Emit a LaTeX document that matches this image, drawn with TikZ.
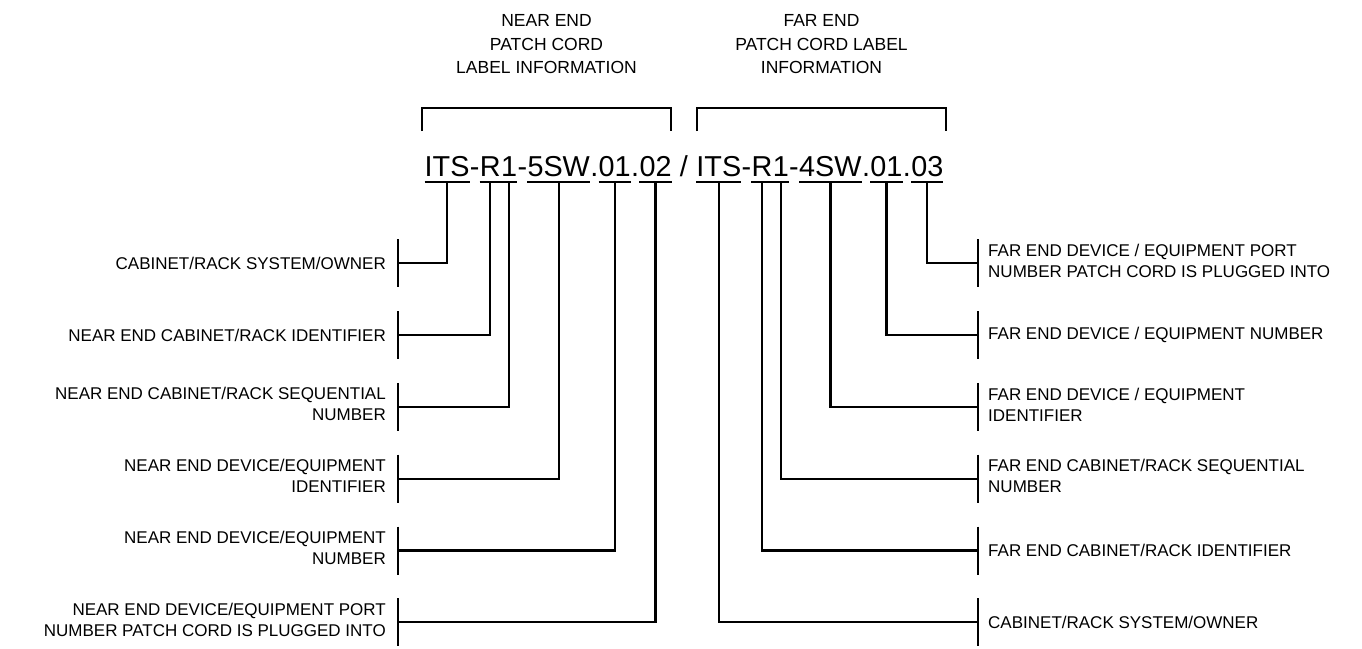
\documentclass[tikz,border=0pt]{standalone}
\usepackage{fontspec}
\setmainfont{Liberation Sans}
\begin{document}
\begin{tikzpicture}[x=1pt,y=-1pt,
  ln/.style={line width=2.2pt},
  ul/.style={line width=2pt},
  seg/.style={inner sep=0pt, anchor=base west, text height=21pt, text depth=6pt, font=\fontsize{28.8}{32}\selectfont},
  lbl/.style={inner sep=0pt, font=\fontsize{17}{21}\selectfont},
  lblL/.style={lbl, anchor=east, align=right},
  lblR/.style={lbl, anchor=west, align=left},
  hdr/.style={inner sep=0pt, anchor=north, align=center, font=\fontsize{17.5}{23.5}\selectfont}]
\path[use as bounding box] (0,0) rectangle (1362,648);

% headers
\node[hdr] (hn) at (546.5,14.5) {NEAR END\\PATCH CORD\\LABEL INFORMATION};
\node[hdr] (hf) at (821.5,14.5) {FAR END\\PATCH CORD LABEL\\INFORMATION};

% brackets
\coordinate (bkn1) at (422,131); \coordinate (bkn2) at (671,131);
\coordinate (bkf1) at (697,131); \coordinate (bkf2) at (946,131);
\draw[ln] (bkn1) -- ++(0,-23) -| (bkn2);
\draw[ln] (bkf1) -- ++(0,-23) -| (bkf2);

% main label text
\node[seg] (n1) at (424.5,176) {ITS};
\node[seg] (h1) at (n1.base east) {-};
\node[seg] (n2) at (h1.base east) {R};
\node[seg] (n3) at (n2.base east) {1};
\node[seg] (h2) at (n3.base east) {-};
\node[seg] (n4) at (h2.base east) {5SW};
\node[seg] (d1) at (n4.base east) {.};
\node[seg] (n5) at (d1.base east) {01};
\node[seg] (d2) at (n5.base east) {.};
\node[seg] (n6) at (d2.base east) {02};
\node[seg] (sl) at (n6.base east) {\kern0.278em/\kern0.278em};
\node[seg] (m1) at (sl.base east) {ITS};
\node[seg] (h3) at (m1.base east) {-};
\node[seg] (m2) at (h3.base east) {R};
\node[seg] (m3) at (m2.base east) {1};
\node[seg] (h4) at (m3.base east) {-};
\node[seg] (m4) at (h4.base east) {4SW};
\node[seg] (d3) at (m4.base east) {.};
\node[seg] (m5) at (d3.base east) {01};
\node[seg] (d4) at (m5.base east) {.};
\node[seg] (m6) at (d4.base east) {03};

\foreach \s in {n1,n2,n3,n4,n5,n6,m1,m2,m3,m4,m5,m6}
  \draw[ul] (\s.south west) -- (\s.south east);

% bar coordinates
\coordinate (bl1) at (398,263.3);
\coordinate (bl2) at (398,335.1);
\coordinate (bl3) at (398,406.9);
\coordinate (bl4) at (398,478.7);
\coordinate (bl5) at (398,550.5);
\coordinate (bl6) at (398,622.3);
\coordinate (br1) at (978,263.3);
\coordinate (br2) at (978,335.1);
\coordinate (br3) at (978,406.9);
\coordinate (br4) at (978,478.7);
\coordinate (br5) at (978,550.5);
\coordinate (br6) at (978,622.3);

\foreach \c in {bl1,bl2,bl3,bl4,bl5,bl6,br1,br2,br3,br4,br5,br6}
  \draw[ln] ([yshift=24pt]\c) -- ([yshift=-24pt]\c);

% connectors
\draw[ln] (n1.south) |- (bl1);
\draw[ln] (n2.south) |- (bl2);
\draw[ln] (n3.south) |- (bl3);
\draw[ln] (n4.south) |- (bl4);
\draw[ln] (n5.south) |- (bl5);
\draw[ln] (n6.south) |- (bl6);
\draw[ln] (m6.south) |- (br1);
\draw[ln] (m5.south) |- (br2);
\draw[ln] (m4.south) |- (br3);
\draw[ln] (m3.south) |- (br4);
\draw[ln] (m2.south) |- (br5);
\draw[ln] (m1.south) |- (br6);

% left labels
\node[lblL] (tl1) at ([xshift=-12pt]bl1) {CABINET/RACK SYSTEM/OWNER};
\node[lblL] (tl2) at ([xshift=-12pt]bl2) {NEAR END CABINET/RACK IDENTIFIER};
\node[lblL] (tl3) at ([xshift=-12pt,yshift=2.5pt]bl3) {NEAR END CABINET/RACK SEQUENTIAL\\NUMBER};
\node[lblL] (tl4) at ([xshift=-12pt,yshift=2.5pt]bl4) {NEAR END DEVICE/EQUIPMENT\\IDENTIFIER};
\node[lblL] (tl5) at ([xshift=-12pt,yshift=2.5pt]bl5) {NEAR END DEVICE/EQUIPMENT\\NUMBER};
\node[lblL] (tl6) at ([xshift=-12pt,yshift=2.5pt]bl6) {NEAR END DEVICE/EQUIPMENT PORT\\NUMBER PATCH CORD IS PLUGGED INTO};

% right labels
\node[lblR] (tr1) at ([xshift=10pt,yshift=2.5pt]br1) {FAR END DEVICE / EQUIPMENT PORT\\NUMBER PATCH CORD IS PLUGGED INTO};
\node[lblR] (tr2) at ([xshift=10pt]br2) {FAR END DEVICE / EQUIPMENT NUMBER};
\node[lblR] (tr3) at ([xshift=10pt,yshift=2.5pt]br3) {FAR END DEVICE / EQUIPMENT\\IDENTIFIER};
\node[lblR] (tr4) at ([xshift=10pt,yshift=2.5pt]br4) {FAR END CABINET/RACK SEQUENTIAL\\NUMBER};
\node[lblR] (tr5) at ([xshift=10pt]br5) {FAR END CABINET/RACK IDENTIFIER};
\node[lblR] (tr6) at ([xshift=10pt]br6) {CABINET/RACK SYSTEM/OWNER};
\end{tikzpicture}
\end{document}
